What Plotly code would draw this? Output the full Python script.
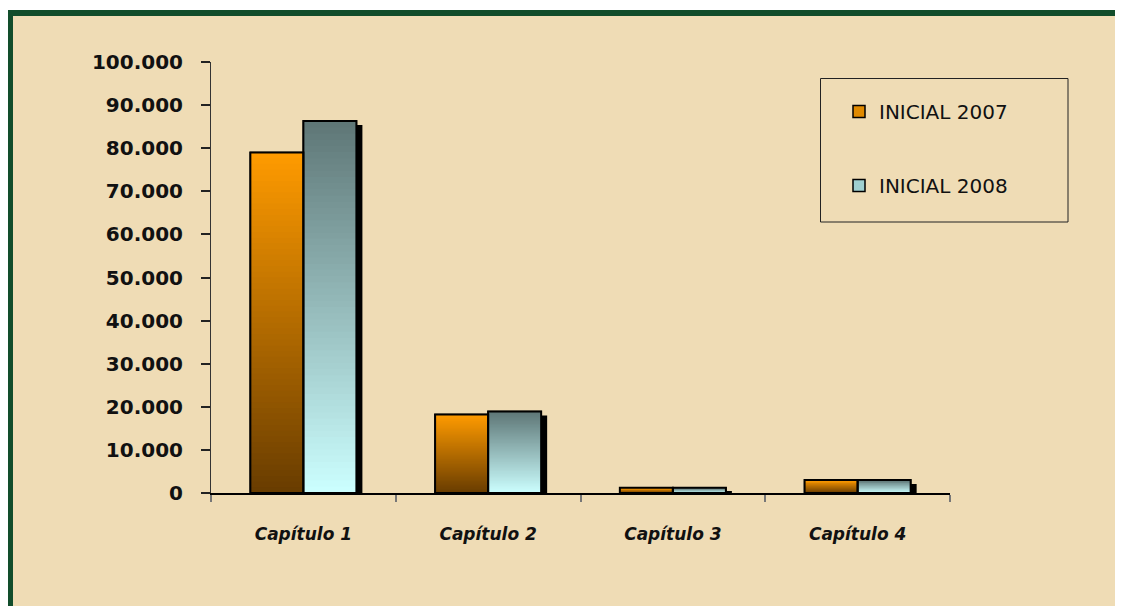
import plotly.graph_objects as go

categories = ["Capítulo 1", "Capítulo 2", "Capítulo 3", "Capítulo 4"]
series_names = ["INICIAL 2007", "INICIAL 2008"]
values_2007 = [79000, 18200, 1200, 3000]
values_2008 = [86300, 18900, 1200, 3000]
y_ticks = [0, 10000, 20000, 30000, 40000, 50000, 60000, 70000, 80000, 90000, 100000]

# ---- style ----
OFF = 8                      # browser body margin
W, H = 1123 - OFF, 606 - OFF
ML, MR, MT, MB = 211 - OFF, 173, 62 - OFF, 113
PW, PH = W - ML - MR, H - MT - MB
YMAX = 100000
BAR_W = 0.287
SHADOW_DX = 6 / (PW / 4)          # px -> category units
SHADOW_DY = 4 * YMAX / PH          # px -> value units
N_SEG = 60
BG = "#efdcb5"

grad = {
    0: ((255, 155, 0), (104, 60, 0)),       # top, bottom
    1: ((94, 118, 118), (204, 255, 255)),
}
solid = {0: "#e08a00", 1: "#9fd0d0"}
offsets = {0: -BAR_W, 1: 0.0}
series_vals = {0: values_2007, 1: values_2008}


def px_x(px):
    return (px - OFF - ML) / PW


def px_y(py):
    return (H + OFF - MB - py) / PH


def mix(c1, c2, t):
    return "rgb(%d,%d,%d)" % tuple(round(a + (b - a) * t) for a, b in zip(c1, c2))


fig = go.Figure()

# shadows
for s in (0, 1):
    vals = series_vals[s]
    fig.add_trace(go.Bar(
        x=categories, y=[max(v - SHADOW_DY, 0) for v in vals],
        offset=offsets[s] + SHADOW_DX, width=BAR_W,
        marker=dict(color="#000000", line=dict(width=0)),
        showlegend=False, hoverinfo="skip"))

# base bars (legend entries)
for s in (0, 1):
    vals = series_vals[s]
    fig.add_trace(go.Bar(
        x=categories, y=vals, name=series_names[s],
        offset=offsets[s], width=BAR_W, legendgroup=series_names[s],
        marker=dict(color=solid[s], line=dict(color="#000000", width=1.5)),
        showlegend=True))

# gradient: each layer reaches from its start to the bar top, drawn bottom-up
for s in (0, 1):
    vals = series_vals[s]
    top, bot = grad[s]
    for k in range(N_SEG):
        t = (k + 0.5) / N_SEG  # 0 bottom -> 1 top
        fig.add_trace(go.Bar(
            x=categories, y=[v * (N_SEG - k) / N_SEG for v in vals],
            base=[v * k / N_SEG for v in vals],
            offset=offsets[s], width=BAR_W,
            marker=dict(color=mix(bot, top, t), line=dict(width=0)),
            showlegend=False, hoverinfo="skip"))

# outlines
for s in (0, 1):
    vals = series_vals[s]
    fig.add_trace(go.Bar(
        x=categories, y=vals, offset=offsets[s], width=BAR_W,
        marker=dict(color="rgba(0,0,0,0)", line=dict(color="#000000", width=2)),
        showlegend=False, hoverinfo="skip"))

shapes = [
    # white strips outside the frame (top / left)
    dict(type="rect", xref="paper", yref="paper",
         x0=px_x(0), x1=px_x(1140), y0=px_y(10), y1=px_y(-5),
         fillcolor="#ffffff", line=dict(width=0), layer="below"),
    dict(type="rect", xref="paper", yref="paper",
         x0=px_x(-5), x1=px_x(7), y0=px_y(630), y1=px_y(-5),
         fillcolor="#ffffff", line=dict(width=0), layer="below"),
    # green frame
    dict(type="rect", xref="paper", yref="paper",
         x0=px_x(10), x1=px_x(1140), y0=px_y(630), y1=px_y(13),
         fillcolor="rgba(0,0,0,0)", line=dict(color="#124d2b", width=6), layer="below"),
    # legend box
    dict(type="rect", xref="paper", yref="paper",
         x0=px_x(820.5), x1=px_x(1068), y0=px_y(222), y1=px_y(78.5),
         fillcolor="rgba(0,0,0,0)", line=dict(color="#222222", width=1), layer="above"),
]

fig.update_layout(
    width=W, height=H,
    margin=dict(l=ML, r=MR, t=MT, b=MB),
    paper_bgcolor=BG, plot_bgcolor="rgba(0,0,0,0)",
    barmode="overlay",
    separators=",.",
    shapes=shapes,
    showlegend=True,
    legend=dict(x=px_x(839), y=px_y(92), xanchor="left", yanchor="top",
                bgcolor="rgba(0,0,0,0)", borderwidth=0,
                font=dict(family="DejaVu Sans", size=20, color="#111111"),
                tracegroupgap=45, traceorder="grouped"),
    xaxis=dict(type="category", categoryorder="array", categoryarray=categories,
               range=[-0.5, 3.5], showgrid=False, zeroline=False,
               showline=True, linecolor="#000000", linewidth=2,
               ticks="outside", tickson="boundaries", ticklen=7, tickcolor="#777777",
               tickwidth=2, ticklabelstandoff=25,
               tickfont=dict(family="DejaVu Sans", size=17, color="#111111",
                             weight="bold", style="italic")),
    yaxis=dict(range=[0, YMAX], tickvals=y_ticks, tickformat=",d",
               showgrid=False, zeroline=False,
               showline=True, linecolor="#333333", linewidth=1,
               ticks="outside", ticklen=9, tickcolor="#222222", tickwidth=2,
               ticklabelstandoff=14,
               tickfont=dict(family="DejaVu Sans", size=20, color="#111111", weight="bold")),
)

fig.write_html("out.html")
